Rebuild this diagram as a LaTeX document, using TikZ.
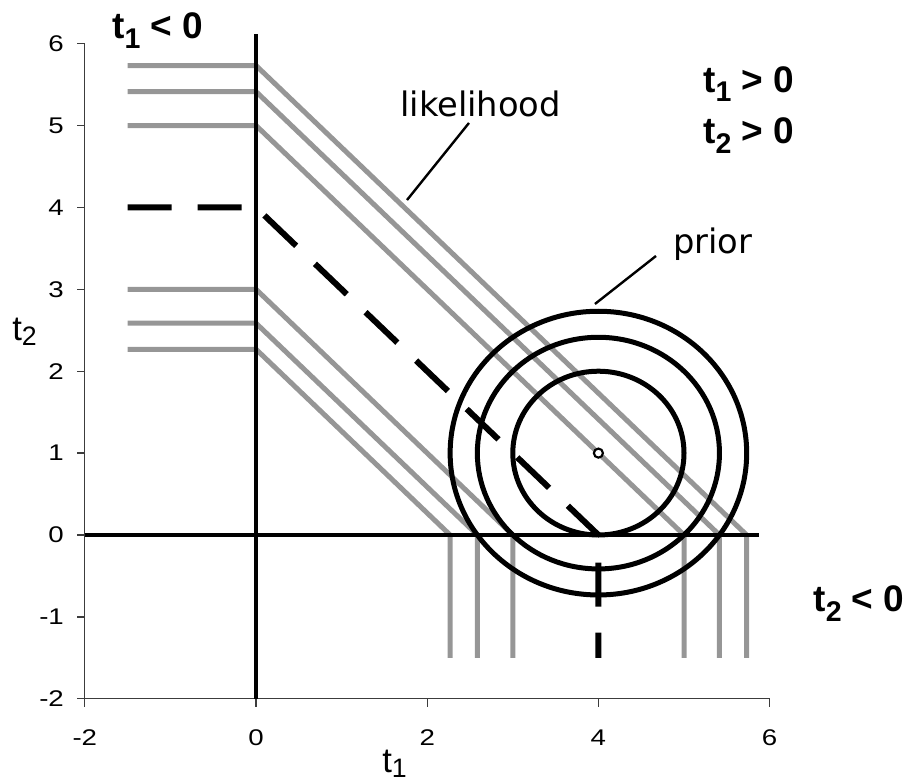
\documentclass[tikz,border=0pt]{standalone}
\usepackage{fontspec}
\usepackage{graphicx}
\setmainfont{Liberation Sans}
\newfontfamily\dejavu{DejaVu Sans}
\newcommand{\lowsub}[2][0.25em]{\raisebox{-#1}{\scalebox{0.77}{#2}}}
\definecolor{likegray}{RGB}{150,150,150}
\definecolor{framegray}{RGB}{60,60,60}
\tikzset{
  frameline/.style={draw=framegray, line width=1pt},
  likeline/.style={draw=likegray, line width=3.75pt},
  axisline/.style={draw=black, line width=3pt},
  dashline/.style={draw=black, line width=4.5pt, dash pattern=on 33pt off 19.5pt},
  priorring/.style={draw=black, line width=3.75pt},
  leader/.style={draw=black, line width=1.8pt},
  ticklab/.style={inner sep=0pt, font=\fontsize{17}{19}\selectfont},
  biglab/.style={inner sep=0pt, anchor=base west, font=\fontsize{27.75}{30}\selectfont\bfseries},
  namelab/.style={inner sep=0pt, anchor=base west, font=\dejavu\fontsize{25.3}{28}\selectfont},
  axtitle/.style={inner sep=0pt, anchor=base west, font=\fontsize{26}{28}\selectfont},
}
\begin{document}
\begin{tikzpicture}[x=64.2pt, y=61.425pt]
\useasboundingbox (-2.99065,-3.02808) rectangle (7.58178,6.53236);
% frame and ticks
\draw[frameline] (-2,6) -- (-2,-2) -- (6,-2);
\foreach \v [count=\i] in {-2,...,6} {
  \draw[frameline] (-2,\v) -- ++(-6pt,0);
  \node[ticklab, anchor=east] (ty\i) at ([xshift=-15.5pt]-2,\v) {\scalebox{1.22}[1]{\v}};
}
\foreach \v [count=\i] in {-2,0,2,4,6} {
  \draw[frameline] (\v,-2) -- ++(0,-6pt);
  \node[ticklab] (tx\i) at ([yshift=-29pt]\v,-2) {\scalebox{1.22}[1]{\v}};
}
% likelihood contours
\foreach \c in {5.732,5.414,5,3,2.586,2.268}
  \draw[likeline] (-1.5,\c) -- (0,\c) -- (\c,0) -- (\c,-1.5);
% thick axes
\draw[axisline] (0,-2) -- (0,6.12);
\draw[axisline] (-2,0) -- (5.88,0);
% dashed line
\draw[dashline] (-1.5,4) -- (0,4) -- (4,0) -- (4,-1.5);
% prior rings
\foreach \r in {1,1.41421,1.73205}
  \draw[priorring] (4,1) ellipse [x radius=\r, y radius=\r];
\draw[draw=black, line width=1.6pt, fill=white] (4,1) circle [radius=3.4pt];
% leaders
\coordinate (likA) at (2.488,5.031);
\coordinate (likB) at (1.764,4.090);
\coordinate (priA) at (4.673,3.407);
\coordinate (priB) at (3.960,2.821);
\draw[leader] (likA) -- (likB);
\draw[leader] (priA) -- (priB);
% labels
\node[namelab] (likelihood) at (1.682,5.104) {likelihood};
\node[namelab] (prior) at (4.871,3.443) {prior};
\node[biglab] (q2) at (-1.682,6.068) {t\lowsub[0.27em]{1} < 0};
\node[biglab] (q1a) at (5.222,5.409) {t\lowsub[0.27em]{1} > 0};
\node[biglab] (q1b) at (5.222,4.786) {t\lowsub[0.27em]{2} > 0};
\node[biglab] (q4) at (6.510,-0.940) {t\lowsub[0.27em]{2} < 0};
\node[axtitle] (ytitle) at (-2.850,2.381) {t\lowsub[0.15em]{2}};
\node[axtitle] (xtitle) at (1.472,-2.894) {t\lowsub[0.15em]{1}};
\end{tikzpicture}
\end{document}
